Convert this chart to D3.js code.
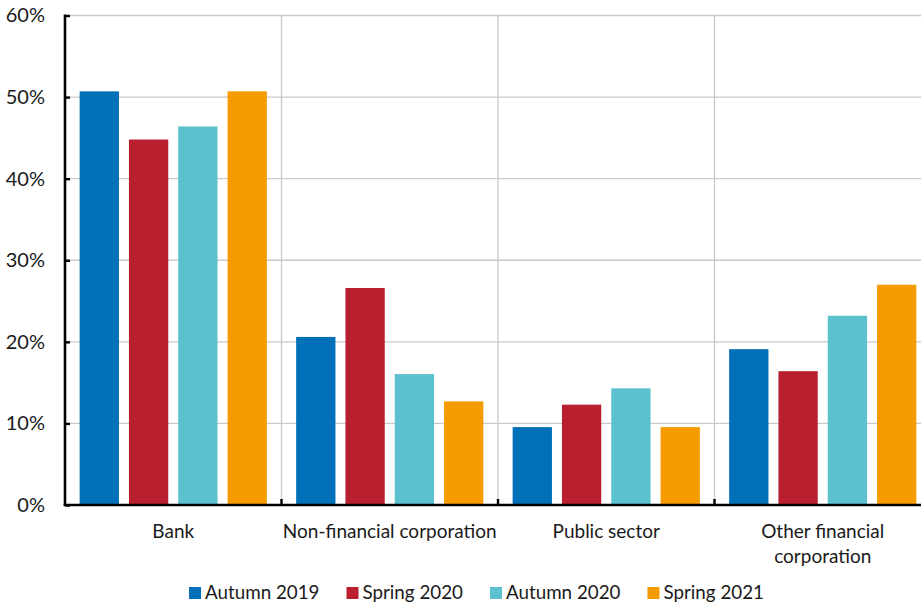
<!DOCTYPE html>
<html>
<head>
<meta charset="utf-8">
<script src="https://cdn.jsdelivr.net/npm/d3@7"></script>
<style>
  html, body { margin: 0; padding: 0; background: #fff; }
  svg text { font-family: Lato, "Liberation Sans", sans-serif; fill: #1a1a1a; }
</style>
</head>
<body>
<svg id="chart" width="921" height="605"></svg>
<script>
// Share of holdings by sector, per survey round (%)
const categories = ["Bank", "Non-financial corporation", "Public sector", "Other financial corporation"];
const categoryLines = [["Bank"], ["Non-financial corporation"], ["Public sector"], ["Other financial", "corporation"]];
const seriesNames = ["Autumn 2019", "Spring 2020", "Autumn 2020", "Spring 2021"];
const seriesColors = ["#0070b8", "#b91f2e", "#5bc1cf", "#f59b00"];
const autumn2019 = [50.7, 20.6, 9.55, 19.1];
const spring2020 = [44.8, 26.6, 12.3, 16.4];
const autumn2020 = [46.4, 16.05, 14.3, 23.2];
const spring2021 = [50.7, 12.7, 9.55, 27.0];
const yTicks = [0, 10, 20, 30, 40, 50, 60];

const seriesValues = [autumn2019, spring2020, autumn2020, spring2021];

const svg = d3.select("#chart");
const plotLeft = 65, plotRight = 931, plotTop = 15.5, plotBottom = 505;
const visibleRight = 921;

const x0 = d3.scaleBand().domain(categories).range([plotLeft, plotRight]).paddingInner(0).paddingOuter(0);
const x1 = d3.scaleBand().domain(seriesNames).range([0, x0.bandwidth()]).paddingInner(0.203).paddingOuter(0.297);
const y = d3.scaleLinear().domain([0, 60]).range([plotBottom, plotTop]);

// horizontal gridlines
svg.append("g").selectAll("line").data(yTicks.filter(d => d > 0)).join("line")
  .attr("x1", plotLeft).attr("x2", visibleRight)
  .attr("y1", d => y(d)).attr("y2", d => y(d))
  .attr("stroke", "#c9c9c9").attr("stroke-width", 1.3);

// vertical gridlines between categories
const bounds = categories.slice(1).map(c => x0(c));
svg.append("g").selectAll("line").data(bounds).join("line")
  .attr("x1", d => d).attr("x2", d => d)
  .attr("y1", plotTop).attr("y2", plotBottom)
  .attr("stroke", "#c9c9c9").attr("stroke-width", 1.3);

// bars
const groups = svg.append("g").selectAll("g").data(categories).join("g")
  .attr("transform", c => `translate(${x0(c)},0)`);
groups.selectAll("rect")
  .data((c, i) => seriesNames.map((s, j) => ({ s, j, v: seriesValues[j][i] })))
  .join("rect")
  .attr("x", d => x1(d.s))
  .attr("width", x1.bandwidth())
  .attr("y", d => y(d.v))
  .attr("height", d => y(0) - y(d.v))
  .attr("fill", d => seriesColors[d.j]);

// y axis
const yAxis = d3.axisLeft(y).tickValues(yTicks).tickSize(-5).tickPadding(20)
  .tickFormat(d => d + "%");
const gy = svg.append("g").attr("transform", `translate(${plotLeft},0)`).call(yAxis);
gy.select(".domain").attr("stroke", "#000").attr("stroke-width", 2.6)
  .attr("d", `M0,${plotTop - 1}V${plotBottom + 1}`);
gy.selectAll(".tick line").attr("stroke", "#000").attr("stroke-width", 2.4);
gy.selectAll(".tick text").attr("font-size", 20).style("font-family", "Lato, sans-serif").attr("fill", "#1a1a1a");

// x axis with ticks at category boundaries
const xAxisLine = svg.append("g");
xAxisLine.append("line")
  .attr("x1", plotLeft - 1.3).attr("x2", visibleRight)
  .attr("y1", plotBottom).attr("y2", plotBottom)
  .attr("stroke", "#000").attr("stroke-width", 2.6);
xAxisLine.selectAll("line.tk").data(bounds).join("line").attr("class", "tk")
  .attr("x1", d => d).attr("x2", d => d)
  .attr("y1", plotBottom).attr("y2", plotBottom - 6)
  .attr("stroke", "#000").attr("stroke-width", 2.4);

// category labels
const labels = svg.append("g").selectAll("text").data(categories).join("text")
  .attr("x", c => x0(c) + x0.bandwidth() / 2)
  .attr("y", 538)
  .attr("text-anchor", "middle")
  .attr("font-size", 19);
labels.selectAll("tspan").data((c, i) => categoryLines[i]).join("tspan")
  .attr("x", function() { return d3.select(this.parentNode).attr("x"); })
  .attr("dy", (d, i) => i === 0 ? 0 : 25)
  .text(d => d);

// legend
const legend = svg.append("g");
const items = legend.selectAll("g").data(seriesNames).join("g");
items.append("rect").attr("width", 12).attr("height", 12).attr("y", -12)
  .attr("fill", (d, i) => seriesColors[i]);
items.append("text").attr("x", 16).attr("y", 0).attr("font-size", 18.8).text(d => d);
let cursor = 0;
const gap = 27;
items.each(function() {
  const g = d3.select(this);
  g.attr("transform", `translate(${cursor},0)`);
  cursor += 16 + g.select("text").node().getComputedTextLength() + gap;
});
const legendWidth = cursor - gap;
legend.attr("transform", `translate(${476.5 - legendWidth / 2},599)`);
</script>
</body>
</html>
